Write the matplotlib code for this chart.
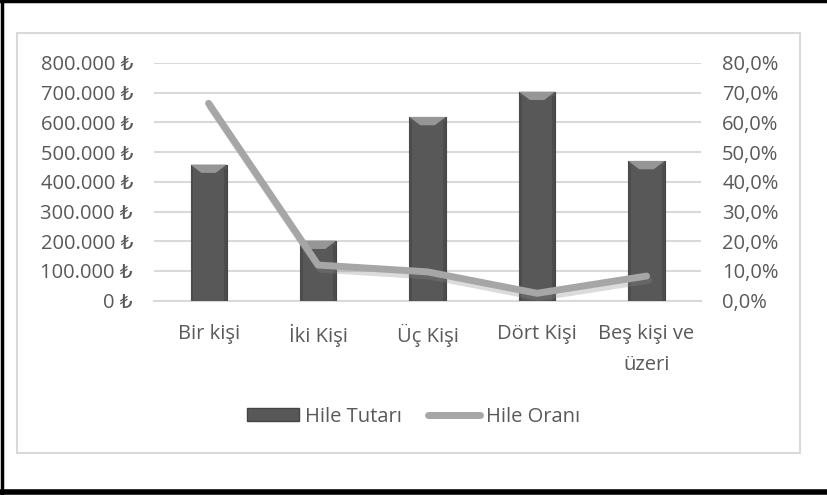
import matplotlib
matplotlib.use("Agg")
import matplotlib.pyplot as plt
import matplotlib.patheffects as pe
from matplotlib.patches import Rectangle, Polygon
from matplotlib.lines import Line2D
from matplotlib.ticker import FuncFormatter, MultipleLocator

plt.rcParams['font.family'] = ['Open Sans', 'DejaVu Sans']

# kişi sayısına göre hile tutarı ve oranı
categories = ["Bir kişi", "İki Kişi", "Üç Kişi", "Dört Kişi", "Beş kişi ve\nüzeri"]
hile_tutari = [458000, 202000, 618000, 703000, 470000]
hile_orani = [0.664, 0.120, 0.097, 0.025, 0.083]

text_col = "#595959"
grid_col = "#d9d9d9"
bar_col = "#585858"
line_col = "#a6a6a6"
fs = 14.5

fig = plt.figure(figsize=(8.27, 4.95), dpi=100)
ax = fig.add_axes([0.186, 0.3925, 0.662, 0.4805])
ax2 = ax.twinx()

x = list(range(len(categories)))
bars = ax.bar(x, hile_tutari, width=0.33, color=bar_col, edgecolor="#454545",
              linewidth=0.8, zorder=3)

# bevel on top of each bar
bevel_h = 28000
for b in bars:
    bx, bw, bt = b.get_x(), b.get_width(), b.get_height()
    d = bw * 0.3
    ax.add_patch(Polygon([(bx, bt), (bx + bw, bt), (bx + bw - d, bt - bevel_h), (bx + d, bt - bevel_h)],
                         closed=True, facecolor="#969696", edgecolor="none", zorder=4))
    ax.add_patch(Rectangle((bx, 0), bw * 0.08, bt - bevel_h * 0.5, facecolor="#4c4c4c", edgecolor="none", zorder=4))
    ax.add_patch(Rectangle((bx + bw * 0.92, 0), bw * 0.08, bt - bevel_h * 0.5, facecolor="#4c4c4c",
                           edgecolor="none", zorder=4))

ax.set_xlim(-0.5, len(categories) - 0.5)
ax.set_ylim(0, 800000)
ax.yaxis.set_major_locator(MultipleLocator(100000))
ax.yaxis.set_major_formatter(FuncFormatter(lambda v, p: "{:,.0f} ₺".format(v).replace(",", ".")))
ax.grid(axis="y", color=grid_col, linewidth=1.5, zorder=0)
ax.set_axisbelow(True)
ax.set_xticks(x)
ax.set_xticklabels(categories, linespacing=1.68)

ax2.plot(x, hile_orani, color=line_col, linewidth=5, solid_capstyle="round",
         solid_joinstyle="round", zorder=5,
         path_effects=[pe.SimpleLineShadow(offset=(1.5, -3), shadow_color="#888888", alpha=0.3),
                       pe.Normal()])
ax2.set_ylim(0, 0.8)
ax2.yaxis.set_major_locator(MultipleLocator(0.1))
ax2.yaxis.set_major_formatter(FuncFormatter(lambda v, p: "{:.1f}%".format(v * 100).replace(".", ",")))
ax.set_zorder(1)
ax2.set_zorder(2)
ax2.patch.set_visible(False)

for a in (ax, ax2):
    for s in a.spines.values():
        s.set_visible(False)
    a.tick_params(length=0, labelsize=fs, labelcolor=text_col)
ax.tick_params(axis="y", pad=15)
ax2.tick_params(axis="y", pad=15)
ax.tick_params(axis="x", pad=17)
ax.spines["bottom"].set_visible(True)
ax.spines["bottom"].set_color(grid_col)
ax.spines["bottom"].set_linewidth(1.5)

handles = [Rectangle((0, 0), 1, 1, facecolor=bar_col, edgecolor="#454545"),
           Line2D([0], [0], color=line_col, linewidth=5, solid_capstyle="round")]
fig.legend(handles, ["Hile Tutarı", "Hile Oranı"], loc="center", bbox_to_anchor=(0.5, 0.158),
           ncol=2, frameon=False, fontsize=fs, labelcolor=text_col,
           handlelength=2.6, handleheight=0.6, handletextpad=0.3, columnspacing=1.3)

# chart border and page frame
fig.add_artist(Rectangle((17 / 827, 1 - 453 / 495), 783 / 827, 420 / 495, transform=fig.transFigure,
                         fill=False, edgecolor=grid_col, linewidth=1.5))
fig.add_artist(Line2D([0.002, 0.002], [0, 1], transform=fig.transFigure, color="black", linewidth=2.5))
fig.add_artist(Line2D([0, 1], [0.998, 0.998], transform=fig.transFigure, color="black", linewidth=2.5))
fig.add_artist(Line2D([0, 1], [1 - 492 / 495, 1 - 492 / 495], transform=fig.transFigure, color="black", linewidth=4))

fig.savefig("out.png", dpi=100)
